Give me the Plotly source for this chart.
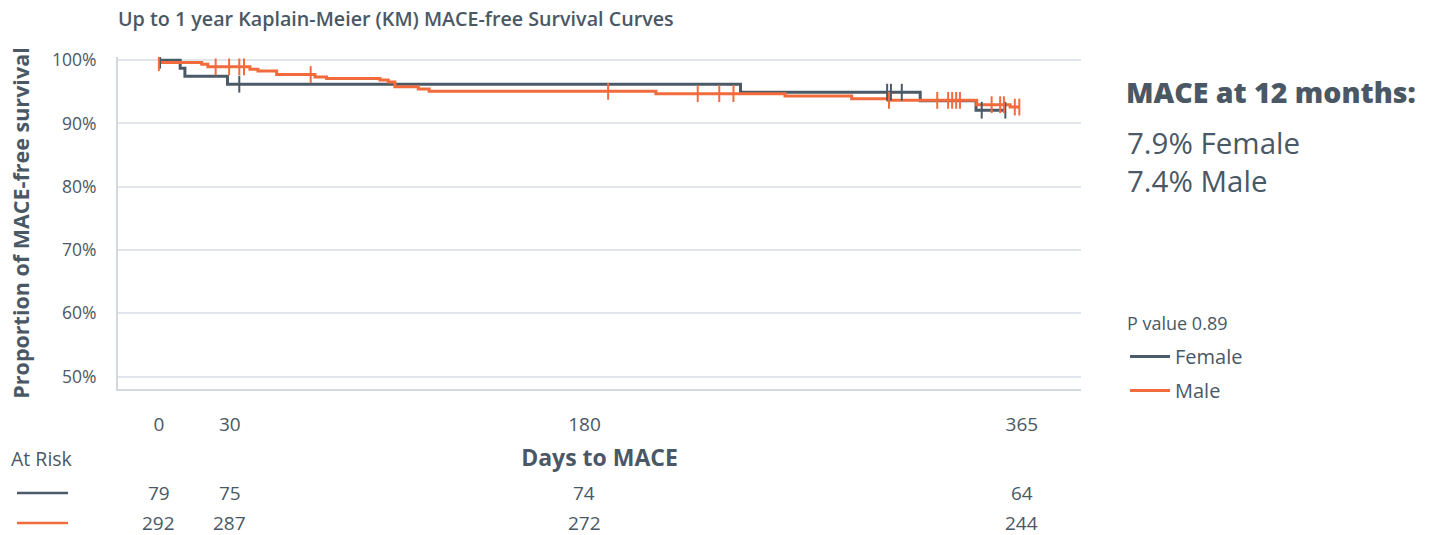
import plotly.graph_objects as go
import numpy as np

# ---------------- data ----------------
female_days = [0, 9, 11, 29, 246, 322, 345.6, 358]
female_surv = [100, 98.73, 97.47, 96.20, 94.94, 93.58, 92.1, 92.1]
female_censor_days = [0.5, 34, 308.0, 309.6, 314.2, 348, 358]

male_days = [0, 18.1, 20.7, 38.5, 41.9, 49.8, 66, 70.9, 93.5, 97, 99.8, 109.7, 114.3,
             210.2, 264.8, 293, 308.4, 345.9, 360, 364.2]
male_surv = [99.63, 99.37, 98.94, 98.57, 98.3, 97.73, 97.35, 97.1, 96.87, 96.56, 95.8,
             95.44, 95.08, 94.71, 94.33, 93.92, 93.65, 92.97, 92.59, 92.59]
male_censor_days = [0, 24, 29.7, 34, 36, 64.2, 190, 227.9, 237, 243, 308.8, 329.2, 333.8,
                    335.5, 337.2, 338.8, 352.2, 355.8, 357.4, 362, 363.9]

x_ticks = [0, 30, 180, 365]
y_ticks = [50, 60, 70, 80, 90, 100]
at_risk_female = [79, 75, 74, 64]
at_risk_male = [292, 287, 272, 244]

mace_female = 7.9
mace_male = 7.4
p_value = 0.89

# ---------------- style ----------------
GRAY = "#4b5a67"
ORANGE = "#f26b3c"
TEXT = "#4a5865"
GRID = "#e2e6ea"
AXIS = "#d3d8dd"
FONT = "Open Sans"

L, R, T, B = 118, 351, 57, 146
W, H = 1432, 535
PW, PH = W - L - R, H - T - B


def step_value(days, surv, t):
    idx = np.searchsorted(days, t, side="right") - 1
    return surv[max(idx, 0)]


def px_x(p):
    return (p - L) / PW


def px_y(p):
    return (H - B - p) / PH


fig = go.Figure()

fig.add_trace(go.Scatter(x=female_days, y=female_surv, mode="lines", name="Female",
                         legendgroup="female",
                         line=dict(color=GRAY, width=3, shape="hv")))
fig.add_trace(go.Scatter(x=male_days, y=male_surv, mode="lines", name="Male",
                         legendgroup="male",
                         line=dict(color=ORANGE, width=3, shape="hv")))
fig.add_trace(go.Scatter(x=female_censor_days,
                         y=[step_value(female_days, female_surv, t) for t in female_censor_days],
                         mode="markers", showlegend=False, legendgroup="female",
                         marker=dict(symbol="line-ns", size=12,
                                     line=dict(color=GRAY, width=2))))
fig.add_trace(go.Scatter(x=male_censor_days,
                         y=[step_value(male_days, male_surv, t) for t in male_censor_days],
                         mode="markers", showlegend=False, legendgroup="male",
                         marker=dict(symbol="line-ns", size=12,
                                     line=dict(color=ORANGE, width=2))))

annotations = []
# At-risk table
annotations.append(dict(text="At Risk", xref="paper", yref="paper", x=px_x(9), y=px_y(458),
                        xanchor="left", yanchor="middle", showarrow=False,
                        font=dict(size=19.5, color=TEXT, family=FONT)))
for t, f, m in zip(x_ticks, at_risk_female, at_risk_male):
    annotations.append(dict(text=str(f), xref="x", yref="paper", x=t, y=px_y(493),
                            xanchor="center", yanchor="middle", showarrow=False,
                            font=dict(size=19, color=TEXT, family=FONT)))
    annotations.append(dict(text=str(m), xref="x", yref="paper", x=t, y=px_y(523),
                            xanchor="center", yanchor="middle", showarrow=False,
                            font=dict(size=19, color=TEXT, family=FONT)))

# Right panel
annotations.append(dict(text="MACE at 12 months:", xref="paper", yref="paper",
                        x=px_x(1124), y=px_y(92), xanchor="left", yanchor="middle",
                        showarrow=False,
                        font=dict(size=28.5, color=TEXT, family=FONT, weight=800)))
annotations.append(dict(text=f"{mace_female}% Female", xref="paper", yref="paper",
                        x=px_x(1125), y=px_y(142), xanchor="left", yanchor="middle",
                        showarrow=False, font=dict(size=29.5, color=TEXT, family=FONT)))
annotations.append(dict(text=f"{mace_male}% Male", xref="paper", yref="paper",
                        x=px_x(1125), y=px_y(180), xanchor="left", yanchor="middle",
                        showarrow=False, font=dict(size=29.5, color=TEXT, family=FONT)))
annotations.append(dict(text=f"P value {p_value}", xref="paper", yref="paper",
                        x=px_x(1125), y=px_y(323), xanchor="left", yanchor="middle",
                        showarrow=False, font=dict(size=18, color=TEXT, family=FONT)))

shapes = [
    dict(type="line", xref="paper", yref="paper", x0=px_x(17), x1=px_x(68),
         y0=px_y(493), y1=px_y(493), line=dict(color=GRAY, width=2.5)),
    dict(type="line", xref="paper", yref="paper", x0=px_x(17), x1=px_x(68),
         y0=px_y(523), y1=px_y(523), line=dict(color=ORANGE, width=2.5)),
]

fig.update_layout(
    width=W, height=H,
    margin=dict(l=L, r=R, t=T, b=B, autoexpand=False),
    paper_bgcolor="white", plot_bgcolor="white",
    font=dict(family=FONT, color=TEXT, size=17),
    title=dict(text="Up to 1 year Kaplain-Meier (KM) MACE-free Survival Curves",
               xref="paper", x=0, xanchor="left", yref="container", y=1 - 19 / H,
               yanchor="middle", font=dict(size=19.7, color=TEXT, family=FONT, weight=600)),
    xaxis=dict(range=[-17.3, 390], tickvals=x_ticks, ticktext=[str(v) for v in x_ticks],
               showgrid=False, zeroline=False, showline=True, linecolor=AXIS, linewidth=2,
               ticks="", ticklabelstandoff=17, tickfont=dict(size=19, color=TEXT),
               title=dict(text="Days to MACE", standoff=14,
                          font=dict(size=23, color=TEXT, weight=700))),
    yaxis=dict(range=[48.05, 100.5], tickvals=y_ticks,
               ticktext=[f"{v}%" for v in y_ticks],
               showgrid=True, gridcolor=GRID, gridwidth=2, zeroline=False,
               showline=True, linecolor=AXIS, linewidth=2, ticks="",
               ticklabelstandoff=16, tickfont=dict(size=17.5, color=TEXT),
               title=dict(text="Proportion of MACE-free survival", standoff=16,
                          font=dict(size=21.5, color=TEXT, weight=700))),
    legend=dict(x=px_x(1125), y=px_y(337), xanchor="left", yanchor="top",
                font=dict(size=20, color=TEXT), tracegroupgap=5, itemwidth=40,
                bgcolor="rgba(0,0,0,0)"),
    annotations=annotations,
    shapes=shapes,
)

fig.write_html("out.html", config={"displayModeBar": False},
               post_script="document.body.style.margin='0';")
